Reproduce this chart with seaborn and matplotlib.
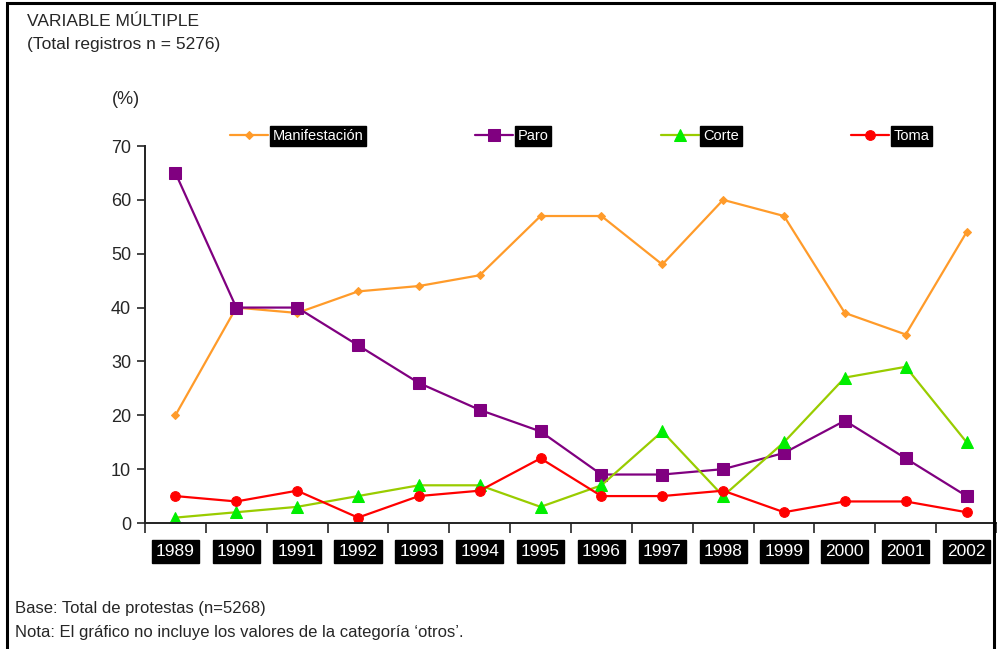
import numpy as np
import pandas as pd
import matplotlib
matplotlib.use("Agg")
import matplotlib.pyplot as plt
from matplotlib.patches import Rectangle
import seaborn as sns

# Data
years = ["1989", "1990", "1991", "1992", "1993", "1994", "1995",
         "1996", "1997", "1998", "1999", "2000", "2001", "2002"]
manifestacion = [20, 40, 39, 43, 44, 46, 57, 57, 48, 60, 57, 39, 35, 54]
paro = [65, 40, 40, 33, 26, 21, 17, 9, 9, 10, 13, 19, 12, 5]
corte = [1, 2, 3, 5, 7, 7, 3, 7, 17, 5, 15, 27, 29, 15]
toma = [5, 4, 6, 1, 5, 6, 12, 5, 5, 6, 2, 4, 4, 2]
series_names = ["Manifestación", "Paro", "Corte", "Toma"]

sns.set_style("white")
plt.rcParams["font.family"] = ["Liberation Sans", "DejaVu Sans"]

fig = plt.figure(figsize=(9.97, 6.49), dpi=100)
ax = fig.add_axes([145 / 997, 1 - 523 / 649, 1 - 145 / 997, (523 - 146) / 649])

pos = np.arange(len(years))
styles = [
    (manifestacion, dict(color="#FF9B2A", marker="D", markersize=4.5,
                         markerfacecolor="#FF9B2A", markeredgecolor="#FF9B2A")),
    (paro, dict(color="#800080", marker="s", markersize=9,
                markerfacecolor="#800080", markeredgecolor="#800080")),
    (corte, dict(color="#99CC00", marker="^", markersize=9,
                 markerfacecolor="#00EE00", markeredgecolor="#00EE00")),
    (toma, dict(color="#FF0000", marker="o", markersize=7,
                markerfacecolor="#FF0000", markeredgecolor="#FF0000")),
]
for name, (vals, kw) in zip(series_names, styles):
    sns.lineplot(x=pos, y=vals, ax=ax, label=name, linewidth=1.6, **kw)

ax.set_xlim(-0.5, len(years) - 0.5)
ax.set_ylim(0, 70)
ax.set_yticks(range(0, 71, 10))
ax.tick_params(axis="y", direction="out", length=6, width=1.2, labelsize=13,
               left=True, pad=4)
ax.set_xticks(pos)
ax.set_xticklabels(years)
ax.set_xticks(np.arange(-0.5, len(years), 1), minor=True)
ax.tick_params(axis="x", which="major", length=0, pad=15)
ax.tick_params(axis="x", which="minor", direction="out", length=7, width=1.2,
               bottom=True)
for lab in ax.get_xticklabels():
    lab.set_color("white")
    lab.set_fontsize(12.5)
    lab.set_bbox(dict(facecolor="black", edgecolor="black", pad=3))

for s in ["top", "right"]:
    ax.spines[s].set_visible(False)
for s in ["left", "bottom"]:
    ax.spines[s].set_color("#222222")
    ax.spines[s].set_linewidth(1.4)
ax.set_xlabel("")
ax.set_ylabel("")

leg = ax.legend(loc="center left", bbox_to_anchor=(230 / 997, 1 - 136 / 649),
                bbox_transform=fig.transFigure, ncol=4, frameon=False,
                borderpad=0, borderaxespad=0, handlelength=2.6,
                handletextpad=0.3, columnspacing=7.7, fontsize=10.5)
for t in leg.get_texts():
    t.set_color("white")
    t.set_bbox(dict(facecolor="black", edgecolor="black", pad=2))

fig.text(27 / 997, 1 - 22 / 649, "VARIABLE MÚLTIPLE", fontsize=12.5,
         va="center", ha="left")
fig.text(27 / 997, 1 - 45 / 649, "(Total registros n = 5276)", fontsize=12.5,
         va="center", ha="left")
fig.text(126 / 997, 1 - 100 / 649, "(%)", fontsize=13, va="center", ha="center")
fig.text(15 / 997, 1 - 609 / 649, "Base: Total de protestas (n=5268)",
         fontsize=12, va="center", ha="left")
fig.text(15 / 997, 1 - 632 / 649,
         "Nota: El gráfico no incluye los valores de la categoría ‘otros’.",
         fontsize=12, va="center", ha="left")

fig.patches.append(Rectangle((7 / 997, -0.01), (994 - 7) / 997, 1 - 3 / 649 + 0.01,
                             transform=fig.transFigure, fill=False,
                             edgecolor="black", linewidth=2.2))

fig.savefig("out.png", dpi=100)
